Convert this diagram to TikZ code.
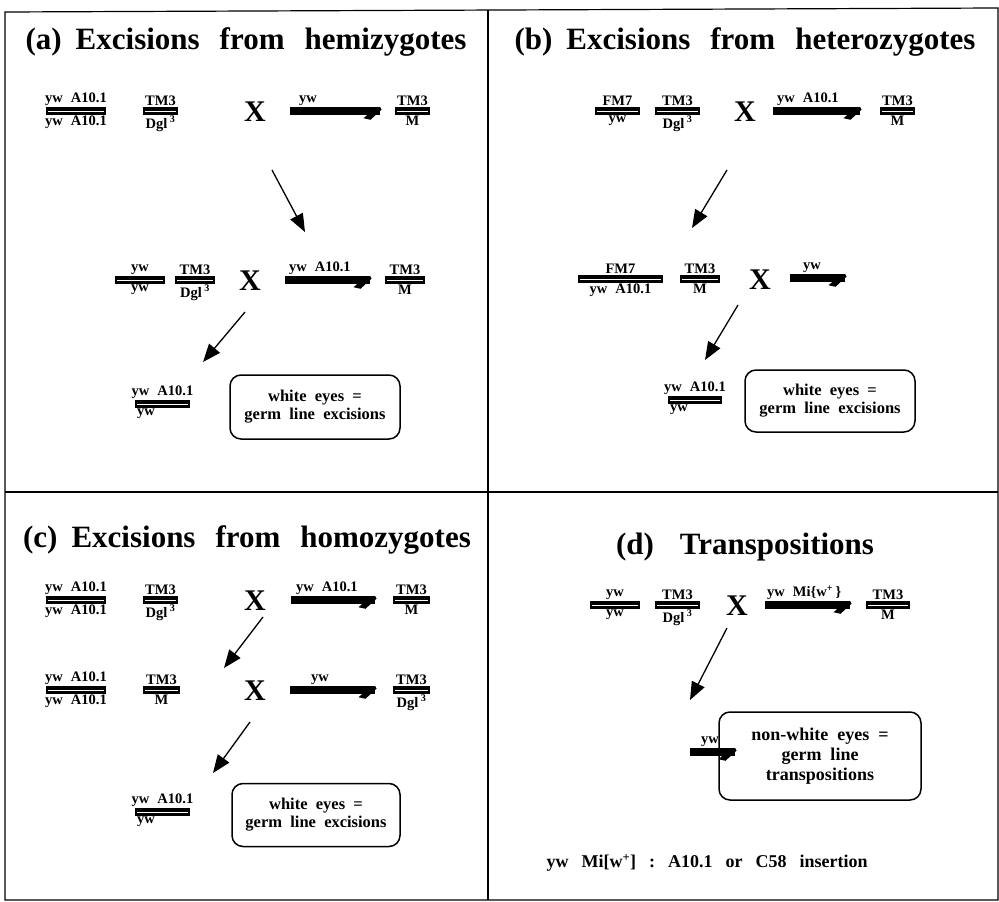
\documentclass[tikz,border=0pt]{standalone}
\usepackage{fontspec}
\setmainfont{Liberation Serif}
\usetikzlibrary{arrows.meta}

% paired chromosomes: a black bar split by a thin white line
\newcommand\pairchr[6]{% name, x1, x2, y, upper label, lower label
  \node[pairbar, minimum width={(#3-#2)*1pt}] (#1) at ({(#2+#3)/2},#4) {};
  \draw[white, line width=0.8pt] ([xshift=2pt]#1.west) -- ([xshift=-2pt]#1.east);
  \node[lab, anchor=south] (#1t) at (#1.north) {#5};
  \node[lab, anchor=north] (#1b) at (#1.south) {#6};
}
% single X with the hooked end of a male
\newcommand\malechr[6]{% name, x1, x2, y, label, label offset from x1
  \node[malebar, minimum width={(#3-#2)*1pt}] (#1) at ({(#2+#3)/2},#4) {};
  \fill (#1.north east) -- ++(1.5,3) -- ++(-11,10) -- ++(-7,-1.5) -- ++(8,-7) -- cycle;
  \node[lab, anchor=south west] (#1t) at ([xshift=#6pt]#1.north west) {#5};
}
\newcommand\Dgl{Dgl\,\textsuperscript{3}}
\newcommand\gap{\hspace{0.55em}}
\newcommand\wgap{\hspace{20pt}}
\newcommand\fgap{\hspace{13pt}}

\tikzset{
  pairbar/.style={fill=black, minimum height=8pt, inner sep=0pt, outer sep=0pt},
  malebar/.style={fill=black, minimum height=8.5pt, inner sep=0pt, outer sep=0pt},
  lab/.style={font=\fontsize{14.5}{15}\selectfont\bfseries, inner sep=1pt},
  cross/.style={font=\fontsize{30}{30}\selectfont\bfseries, inner sep=0pt},
  paneltitle/.style={font=\fontsize{31}{32}\selectfont\bfseries, inner sep=0pt},
  note/.style={draw, line width=1.5pt, rounded corners=11pt, align=center,
    font=\fontsize{16.5}{18}\selectfont\bfseries, inner sep=0pt},
  flow/.style={-{Triangle[length=18pt,width=14pt]}, line width=1.3pt},
  frame/.style={line width=1.2pt}
}

\begin{document}
\begin{tikzpicture}[x=1pt,y=-1pt]
\useasboundingbox (0,0) rectangle (999,902);

% panel frame
\draw[frame] (5,12) -- (998,8) -- (998,900) -- (5,900) -- cycle;
\draw[frame] (488,10) -- (488,900);
\draw[frame] (5,492) -- (998,492);

% ---------- (a) ----------
\node[paneltitle] (ta) at (246,42) {(a)\hspace{14pt}Excisions\wgap from\wgap hemizygotes};
\pairchr{a11}{46}{106}{111}{yw\gap A10.1}{yw\gap A10.1}
\pairchr{a12}{143}{178}{111}{TM3}{\Dgl}
\node[cross] (ax1) at (255,112) {X};
\malechr{a13}{290}{380}{111}{yw}{8}
\pairchr{a14}{395}{430}{111}{TM3}{M}

\pairchr{a21}{115}{165}{280}{yw}{yw}
\pairchr{a22}{175}{215}{280}{TM3}{\Dgl}
\node[cross] (ax2) at (250,281) {X};
\malechr{a23}{285}{370}{280}{yw\gap A10.1}{3}
\pairchr{a24}{385}{425}{280}{TM3}{M}

\pairchr{a31}{135}{190}{404}{yw\gap A10.1}{}
\node[lab, anchor=north west] (a31y) at ([xshift=1pt]a31.south west) {yw};
\node[note, minimum width=170pt, minimum height=64pt] (an) at (315,407)
  {white\ \ eyes\ \ =\\germ\ \ line\ \ excisions};

\coordinate (a1s) at (272,170); \coordinate (a1e) at (305,232);
\coordinate (a2s) at (245,312); \coordinate (a2e) at (203,362);
\draw[flow] (a1s) -- (a1e);
\draw[flow] (a2s) -- (a2e);

% ---------- (b) ----------
\node[paneltitle] (tb) at (745,42) {(b)\hspace{14pt}Excisions\wgap from\wgap heterozygotes};
\pairchr{b11}{595}{640}{111}{FM7}{yw}
\pairchr{b12}{655}{700}{111}{TM3}{\Dgl}
\node[cross] (bx1) at (745,112) {X};
\malechr{b13}{773}{860}{111}{yw\gap A10.1}{3}
\pairchr{b14}{880}{915}{111}{TM3}{M}

\pairchr{b21}{578}{663}{279}{FM7}{yw\gap A10.1}
\pairchr{b22}{680}{720}{279}{TM3}{M}
\node[cross] (bx2) at (760,280) {X};
\malechr{b23}{790}{845}{278}{yw}{12}

\pairchr{b31}{668}{722}{400}{yw\gap A10.1}{}
\node[lab, anchor=north west] (b31y) at ([xshift=1pt]b31.south west) {yw};
\node[note, minimum width=170pt, minimum height=62pt] (bn) at (830,401)
  {white\ \ eyes\ \ =\\germ\ \ line\ \ excisions};

\coordinate (b1s) at (727,170); \coordinate (b1e) at (692,228);
\coordinate (b2s) at (738,305); \coordinate (b2e) at (705,360);
\draw[flow] (b1s) -- (b1e);
\draw[flow] (b2s) -- (b2e);

% ---------- (c) ----------
\node[paneltitle] (tc) at (247,540) {(c)\hspace{14pt}Excisions\wgap from\wgap homozygotes};
\pairchr{c11}{46}{106}{600}{yw\gap A10.1}{yw\gap A10.1}
\pairchr{c12}{143}{178}{600}{TM3}{\Dgl}
\node[cross] (cx1) at (255,601) {X};
\malechr{c13}{291}{375}{600}{yw\gap A10.1}{4}
\pairchr{c14}{393}{430}{600}{TM3}{M}

\pairchr{c21}{46}{106}{690}{yw\gap A10.1}{yw\gap A10.1}
\pairchr{c22}{143}{180}{690}{TM3}{M}
\node[cross] (cx2) at (255,691) {X};
\malechr{c23}{290}{375}{690}{yw}{20}
\pairchr{c24}{393}{430}{690}{TM3}{\Dgl}

\pairchr{c31}{135}{190}{812}{yw\gap A10.1}{}
\node[lab, anchor=north west] (c31y) at ([xshift=1pt]c31.south west) {yw};
\node[note, minimum width=168pt, minimum height=63pt] (cn) at (316,815)
  {white\ \ eyes\ \ =\\germ\ \ line\ \ excisions};

\coordinate (c1s) at (263,617); \coordinate (c1e) at (224,668);
\coordinate (c2s) at (250,722); \coordinate (c2e) at (213,773);
\draw[flow] (c1s) -- (c1e);
\draw[flow] (c2s) -- (c2e);

% ---------- (d) ----------
\node[paneltitle] (td) at (745,547) {(d)\hspace{26pt}Transpositions};
\pairchr{d11}{590}{640}{605}{yw}{yw}
\pairchr{d12}{655}{700}{605}{TM3}{\Dgl}
\node[cross] (dx1) at (737,606) {X};
\malechr{d13}{765}{850}{605}{yw\gap Mi\{w\textsuperscript{+}\,\}}{1}
\pairchr{d14}{866}{910}{605}{TM3}{M}

\malechr{d21}{690}{735}{752}{yw}{10}
\node[note, minimum width=202pt, minimum height=88pt,
      font=\fontsize{18}{20}\selectfont\bfseries] (dn) at (820,756)
  {non-white\ \ eyes\ \ =\\germ\ \ line\\transpositions};

\coordinate (d1s) at (727,628); \coordinate (d1e) at (690,700);
\draw[flow] (d1s) -- (d1e);

\node[font=\fontsize{18}{20}\selectfont\bfseries, anchor=west] (key) at (543,863)
  {yw\fgap Mi[w\textsuperscript{+}]\fgap :\fgap A10.1\fgap or\fgap C58\fgap insertion};

\end{tikzpicture}
\end{document}
